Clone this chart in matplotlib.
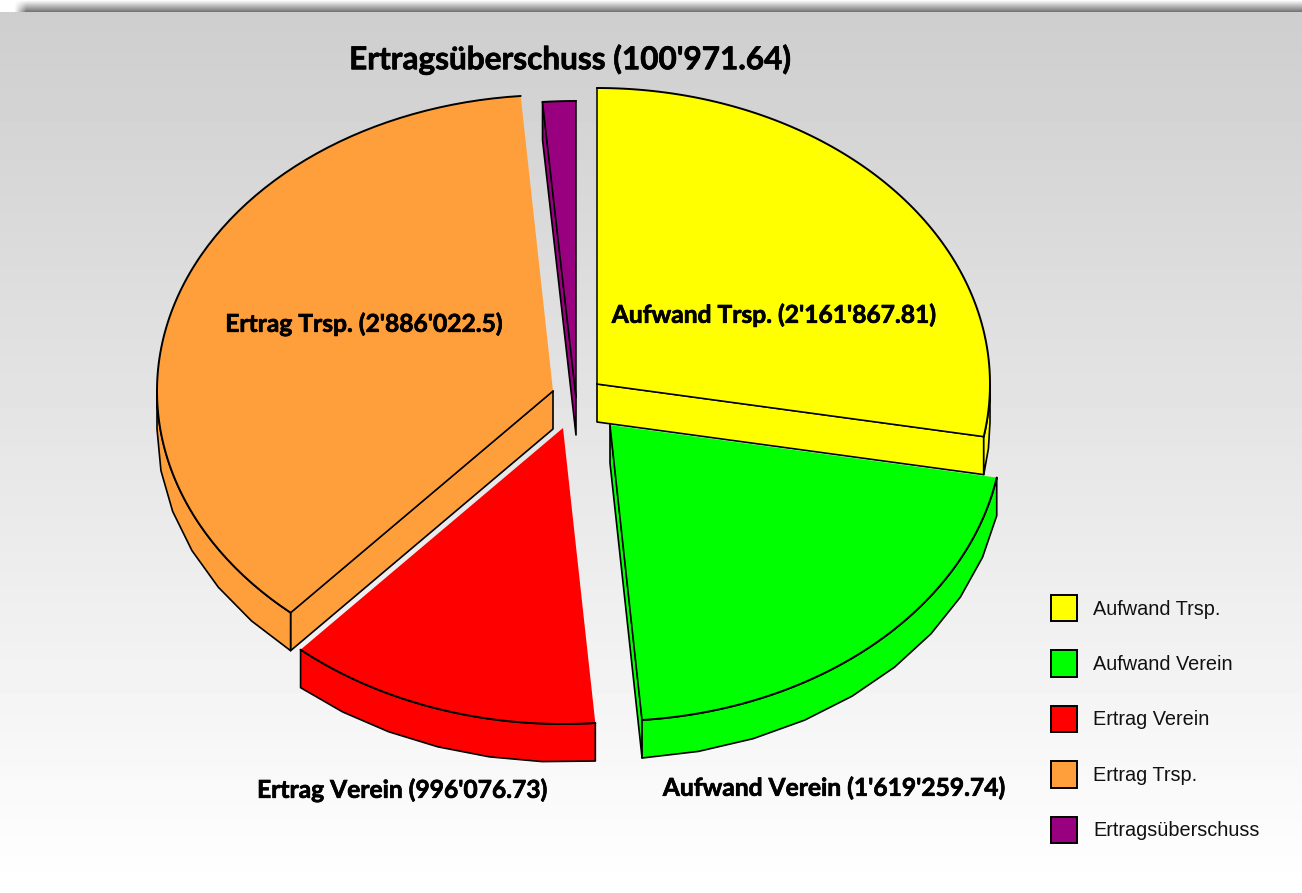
import numpy as np
import matplotlib
matplotlib.use("Agg")
import matplotlib.pyplot as plt
from matplotlib.patches import Patch
import matplotlib.patheffects as pe

# ---- data ----
categories = ["Aufwand Trsp.", "Aufwand Verein", "Ertrag Verein", "Ertrag Trsp.", "Ertragsüberschuss"]
values = [2161867.81, 1619259.74, 996076.73, 2886022.5, 100971.64]
value_labels = ["2'161'867.81", "1'619'259.74", "996'076.73", "2'886'022.5", "100'971.64"]
colors = ["#ffff00", "#00ff00", "#ff0000", "#ff9f3c", "#990080"]

# ---- layout (pixels) ----
W, H = 1302, 893
RY, DEPTH = 296, 38
radii_x = [393, 393, 396, 396, 410]
apex = [(597, 384), (610, 425), (563, 428), (553, 391), (576, 397)]
radial_lines = [(True, True), (False, True), (False, False), (True, False), (True, True)]
label_pos = [(774, 315), (834, 788), (402, 790), (364, 324), (570, 59)]
label_sizes = [17.7, 17.7, 17.7, 17.7, 22.7]
draw_order = [4, 0, 3, 2, 1]

fig = plt.figure(figsize=(W / 100, H / 100), dpi=100)
ax = fig.add_axes([0, 0, 1, 1])
ax.set_xlim(0, W)
ax.set_ylim(H, 0)
ax.axis("off")

# background gradient
TOP = 12
grad = np.linspace(0.808, 1.0, 256)[:, None]
ax.imshow(grad, extent=(0, W, H, TOP), cmap="gray", vmin=0, vmax=1, aspect="auto", zorder=0)
# page shadow along the top
sy = np.linspace(0, 1, TOP * 2)
sx = np.clip((np.arange(W) - 14) / 12, 0, 1)
alpha = (sy[:, None] * sx[None, :]) * 0.55
rgba = np.zeros(alpha.shape + (4,))
rgba[..., 3] = alpha
ax.imshow(rgba, extent=(0, W, TOP, 0), aspect="auto", zorder=0.5)
ax.set_xlim(0, W)
ax.set_ylim(H, 0)

total = sum(values)
fracs = np.array(values) / total
ends = np.cumsum(fracs) * 2 * np.pi
starts = ends - fracs * 2 * np.pi


def pt(c, rx, a, dy=0.0):
    return c[0] + rx * np.sin(a), c[1] - RY * np.cos(a) + dy


def arc(c, rx, a0, a1, step, dy=0.0):
    n = max(int(np.ceil((a1 - a0) / step)), 1)
    t = np.linspace(a0, a1, n + 1)
    return c[0] + rx * np.sin(t), c[1] - RY * np.cos(t) + dy


for z, i in enumerate(draw_order):
    c, a0, a1, col, rx = apex[i], starts[i], ends[i], colors[i], radii_x[i]
    base = 2 + z
    # radial cut walls that face the viewer
    for a, vis in ((a0, np.sin(a0) < -1e-6), (a1, np.sin(a1) > 1e-6)):
        if vis:
            px, py = pt(c, rx, a)
            ax.fill([c[0], px, px, c[0]], [c[1], py, py + DEPTH, c[1] + DEPTH],
                    fc=col, ec="black", lw=1.2, joinstyle="round", zorder=base)
    # outer rim
    lo, hi = max(a0, np.pi / 2), min(a1, 3 * np.pi / 2)
    if hi > lo:
        tx, ty = arc(c, rx, lo, hi, np.radians(1))
        bx, by = arc(c, rx, lo, hi, np.radians(9), DEPTH)
        ax.fill(np.r_[tx, bx[::-1]], np.r_[ty, by[::-1]], fc=col, ec="black", lw=1.2,
                joinstyle="round", zorder=base)
    # top face
    tx, ty = arc(c, rx, a0, a1, np.radians(1))
    ax.fill(np.r_[c[0], tx], np.r_[c[1], ty], fc=col, ec="none", zorder=base + 0.1)
    ax.plot(tx, ty, color="black", lw=1.4, solid_capstyle="round", zorder=base + 0.2)
    for a, show in zip((a0, a1), radial_lines[i]):
        if show:
            px, py = pt(c, rx, a)
            ax.plot([c[0], px], [c[1], py], color="black", lw=1.1, zorder=base + 0.2)

# slice labels
for (x, y), name, val, fs in zip(label_pos, categories, value_labels, label_sizes):
    ax.text(x, y, f"{name} ({val})", ha="center", va="center", fontsize=fs,
            family="Lato", weight="bold", color="black", zorder=20,
            path_effects=[pe.withStroke(linewidth=0.5, foreground="black")])

# legend
handles = [Patch(fc=col, ec="black", lw=1.4, label=name) for col, name in zip(colors, categories)]
leg = ax.legend(handles=handles, loc="upper left", bbox_to_anchor=(1045.5, 589),
                bbox_transform=ax.transData, frameon=False,
                handlelength=1.27, handleheight=1.65, handletextpad=0.83,
                labelspacing=1.475, borderpad=0.3, borderaxespad=0,
                prop={"family": "Liberation Sans", "size": 14.3})
for t in leg.get_texts():
    t.set_color("#111111")

fig.savefig("out.png", dpi=100)
